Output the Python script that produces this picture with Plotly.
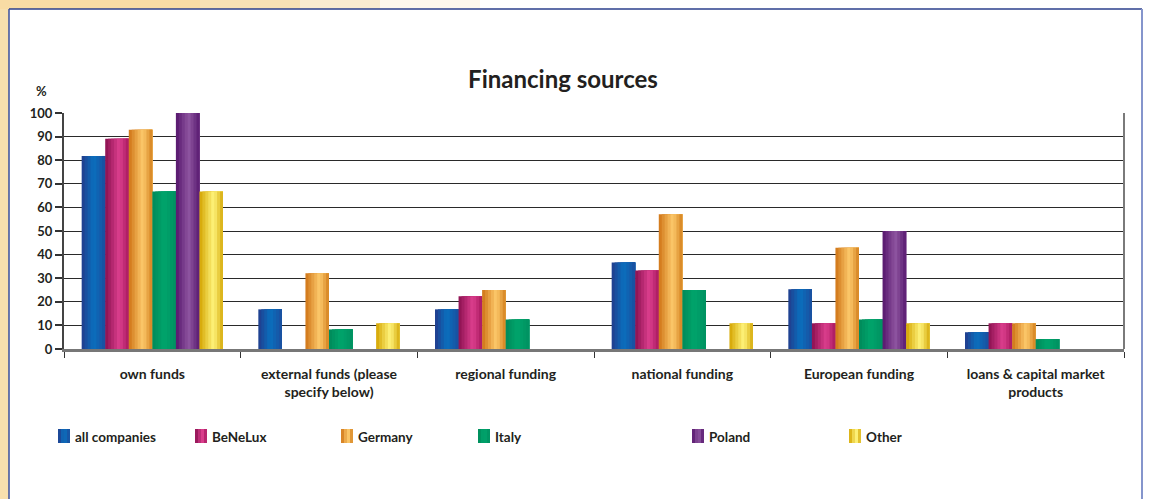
import plotly.graph_objects as go

# ---- data -------------------------------------------------------------
categories = [
    "own funds",
    "external funds (please specify below)",
    "regional funding",
    "national funding",
    "European funding",
    "loans & capital market products",
]
tick_labels = [
    "own funds",
    "external funds (please<br>specify below)",
    "regional funding",
    "national funding",
    "European funding",
    "loans & capital market<br>products",
]
series_names = ["all companies", "BeNeLux", "Germany", "Italy", "Poland", "Other"]

all_companies = [81.8, 16.8, 16.8, 36.7, 25.3, 7.1]
benelux = [89.1, 0.0, 22.3, 33.3, 10.9, 10.9]
germany = [92.9, 32.1, 25.0, 57.1, 42.9, 10.9]
italy = [66.7, 8.3, 12.5, 25.0, 12.5, 4.2]
poland = [100.0, 0.0, 0.0, 0.0, 50.0, 0.0]
other = [66.7, 10.9, 0.0, 10.9, 10.9, 0.0]

series_values = [all_companies, benelux, germany, italy, poland, other]
y_ticks = list(range(0, 101, 10))

# ---- styling ----------------------------------------------------------
# cylinder-like shading: (left edge, highlight, right edge, highlight pos)
shading = [
    ("#223b8c", "#0a70be", "#1b4e9e", 0.50),
    ("#8a1050", "#dc3f8e", "#a8195f", 0.60),
    ("#cf7416", "#fdca6c", "#d4801e", 0.60),
    ("#008a5a", "#00a56c", "#009060", 0.50),
    ("#56166c", "#8e55a0", "#581a70", 0.55),
    ("#d4a400", "#fff47c", "#d6aa0c", 0.60),
]


def _rgb(h):
    h = h.lstrip("#")
    return tuple(int(h[i:i + 2], 16) for i in (0, 2, 4))


def shade(stops, t):
    left, mid, right, p = stops
    a, b = (_rgb(left), _rgb(mid)) if t <= p else (_rgb(mid), _rgb(right))
    f = t / p if t <= p else (t - p) / (1 - p)
    c = [round(a[i] + (b[i] - a[i]) * f) for i in range(3)]
    return "rgb(%d,%d,%d)" % tuple(c)


FONT = "Lato"
TEXT = "#231f20"

# plot area in pixels
L, R, T, B = 64, 1124, 113, 349
W, H = R - L, B - T


def px(x):
    return (x - L) / W


def py(y):
    return (B - y) / H


fig = go.Figure()

n_series = len(series_values)
group = 0.8
bar_w = group / n_series
strips = 8
strip_w = bar_w / strips

# each bar is painted as successive bands that all run to the bar's right
# edge, so later bands cover the earlier ones without seams
for j, (name, vals) in enumerate(zip(series_names, series_values)):
    base_off = -group / 2 + j * bar_w
    for k in range(strips):
        t = (k + 0.5) / strips
        fig.add_trace(go.Bar(
            x=categories,
            y=vals,
            name=name,
            legendgroup=name,
            showlegend=False,
            width=bar_w - k * strip_w,
            offset=base_off + k * strip_w,
            marker=dict(color=shade(shading[j], t), line=dict(width=0)),
            hovertemplate=name + ": %{y}<extra></extra>",
        ))

shapes = []
annotations = []

# background decoration around the white panel
shapes.append(dict(type="rect", xref="paper", yref="paper", layer="below",
                   x0=px(0), x1=px(9), y0=py(499), y1=py(0),
                   fillcolor="#f8e0ae", line=dict(width=0)))
for x1, op in [(200, 0.9), (300, 0.6), (380, 0.4), (480, 0.2)]:
    shapes.append(dict(type="rect", xref="paper", yref="paper", layer="below",
                       x0=px(0), x1=px(x1), y0=py(9), y1=py(0),
                       fillcolor="#f8dca4", opacity=op, line=dict(width=0)))
# white panel with blue frame
shapes.append(dict(type="rect", xref="paper", yref="paper", layer="below",
                   x0=px(9), x1=px(1142), y0=py(505), y1=py(9),
                   fillcolor="white", line=dict(width=0)))
shapes.append(dict(type="line", xref="paper", yref="paper",
                   x0=px(9), x1=px(1142), y0=py(9), y1=py(9),
                   line=dict(color="#2b3f8c", width=1.5)))
shapes.append(dict(type="line", xref="paper", yref="paper",
                   x0=px(9), x1=px(9), y0=py(9), y1=py(505),
                   line=dict(color="#3a4f9c", width=1.5)))
shapes.append(dict(type="line", xref="paper", yref="paper",
                   x0=px(1142), x1=px(1142), y0=py(9), y1=py(505),
                   line=dict(color="#8595cc", width=2)))
# right frame of the plot area
shapes.append(dict(type="line", xref="paper", yref="paper",
                   x0=1, x1=1, y0=0, y1=1,
                   line=dict(color="#7a7a7a", width=2)))

# legend drawn by hand
legend_x = [58, 195, 341, 478, 692, 849]
sw_strips = 4
for j, (name, lx) in enumerate(zip(series_names, legend_x)):
    for k in range(sw_strips):
        t = (k + 0.5) / sw_strips
        shapes.append(dict(type="rect", xref="paper", yref="paper",
                           x0=px(lx + k * 3), x1=px(lx + 12),
                           y0=py(443), y1=py(429),
                           fillcolor=shade(shading[j], t), line=dict(width=0)))
    annotations.append(dict(xref="paper", yref="paper", x=px(lx + 15), y=py(437),
                            xanchor="left", yanchor="middle", showarrow=False,
                            text="<b>%s</b>" % name,
                            font=dict(family=FONT, size=13.5, color=TEXT)))

# axis unit label
annotations.append(dict(xref="paper", yref="paper", x=px(41), y=py(91),
                        xanchor="center", yanchor="middle", showarrow=False,
                        text="<b>%</b>",
                        font=dict(family=FONT, size=13, color=TEXT)))

fig.update_layout(
    width=1149,
    height=499,
    margin=dict(l=L, r=1149 - R, t=T, b=499 - B, pad=0),
    paper_bgcolor="white",
    plot_bgcolor="rgba(0,0,0,0)",
    barmode="overlay",
    showlegend=False,
    title=dict(text="<b>Financing sources</b>", x=563 / 1149, xref="container",
               xanchor="center", y=1 - 80 / 499, yref="container", yanchor="middle",
               font=dict(family=FONT, size=24, color=TEXT)),
    font=dict(family=FONT, color=TEXT),
    shapes=shapes,
    annotations=annotations,
    xaxis=dict(
        type="category",
        tickmode="array",
        tickvals=categories,
        ticktext=["<b>%s</b>" % t for t in tick_labels],
        tickson="boundaries",
        ticks="outside",
        ticklen=6,
        tickwidth=1,
        tickcolor="#333333",
        ticklabelstandoff=10,
        showgrid=False,
        showline=True,
        linecolor="#777777",
        linewidth=3,
        tickfont=dict(family=FONT, size=14, color=TEXT),
        range=[-0.5, len(categories) - 0.5],
        fixedrange=True,
    ),
    yaxis=dict(
        range=[0, 100],
        tickmode="array",
        tickvals=y_ticks,
        ticktext=["<b>%d</b>" % v for v in y_ticks],
        ticks="outside",
        ticklen=7,
        tickwidth=1.5,
        tickcolor="#333333",
        showgrid=True,
        gridcolor="#2a2a2a",
        gridwidth=1.3,
        zeroline=False,
        showline=True,
        linecolor="#444444",
        linewidth=2,
        tickfont=dict(family=FONT, size=13, color=TEXT),
        fixedrange=True,
    ),
)

fig.write_html("out.html")
